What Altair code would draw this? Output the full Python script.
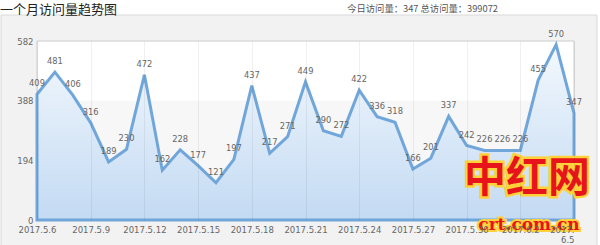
import altair as alt
import pandas as pd

dates = ["2017.5.6", "2017.5.7", "2017.5.8", "2017.5.9", "2017.5.10", "2017.5.11",
         "2017.5.12", "2017.5.13", "2017.5.14", "2017.5.15", "2017.5.16", "2017.5.17",
         "2017.5.18", "2017.5.19", "2017.5.20", "2017.5.21", "2017.5.22", "2017.5.23",
         "2017.5.24", "2017.5.25", "2017.5.26", "2017.5.27", "2017.5.28", "2017.5.29",
         "2017.5.30", "2017.5.31", "2017.6.1", "2017.6.2", "2017.6.3", "2017.6.4",
         "2017.6.5"]
visits = [409, 481, 406, 316, 189, 230, 472, 162, 228, 177, 121, 197, 437, 217, 271,
          449, 290, 272, 422, 336, 318, 166, 201, 337, 242, 226, 226, 226, 455, 570, 347]
y_ticks = [0, 194, 388, 582]
x_ticks = dates[::3]
title_text = "一个月访问量趋势图"
stats_text = "今日访问量：347 总访问量：399072"

W, H = 537, 179
FONT = "DejaVu Sans"

df = pd.DataFrame({"date": dates, "v": visits})
bands = pd.DataFrame({"y0": [0, 388], "y1": [388, 582], "c": ["#f7f7f7", "#ffffff"]})
one = pd.DataFrame({"k": [0]})

xscale = alt.Scale(type="point", padding=0, domain=dates)
yscale = alt.Scale(domain=[0, 582], nice=False, zero=True)

panel = alt.Chart(one).mark_rect(fill="#f2f2f2", stroke="#d9d9d9", strokeWidth=1).encode(
    x=alt.value(-36), x2=alt.value(560), y=alt.value(-26), y2=alt.value(205)
)

band_layer = alt.Chart(bands).mark_rect().encode(
    x=alt.value(0), x2=alt.value(W),
    y=alt.Y("y0:Q", scale=yscale), y2="y1:Q",
    color=alt.Color("c:N", scale=None, legend=None),
)

frame = alt.Chart(one).mark_rect(filled=False, stroke="#cccccc", strokeWidth=1).encode(
    x=alt.value(0), x2=alt.value(W), y=alt.value(0), y2=alt.value(H)
)

gradient = alt.Gradient(
    gradient="linear",
    stops=[alt.GradientStop(color="#f3f8fd", offset=0),
           alt.GradientStop(color="#c3daf3", offset=1)],
    x1=0, x2=0, y1=0, y2=1,
)

area = alt.Chart(df).mark_area(fill=gradient, stroke="#71a6da", strokeWidth=3).encode(
    x=alt.X("date:N", sort=dates, scale=xscale,
            axis=alt.Axis(values=x_ticks, title=None, labelAngle=0, ticks=False, domain=False,
                          grid=True, gridColor="#000000", gridOpacity=0.06,
                          labelFont=FONT, labelFontSize=8.5, labelColor="#666666",
                          labelPadding=5, labelOverlap=False, labelBound=False,
                          labelAlign={"condition": {"test": "datum.value == '2017.6.5'", "value": "right"},
                                      "value": "center"},
                          labelExpr="datum.value == '2017.6.5' ? ['2017.', '6.5'] : datum.value",
                          zindex=1)),
    y=alt.Y("v:Q", scale=yscale,
            axis=alt.Axis(values=y_ticks, title=None, ticks=False, domain=False, grid=False,
                          labelFont=FONT, labelFontSize=8.5, labelColor="#666666",
                          labelPadding=4, zindex=1)),
)

labels = alt.Chart(df).mark_text(dy=-10, font=FONT, fontSize=8.3, color="#666666").encode(
    x=alt.X("date:N", sort=dates, scale=xscale),
    y=alt.Y("v:Q", scale=yscale),
    text="v:Q",
)

title = alt.Chart(one).mark_text(text=title_text, align="left", baseline="middle",
                                 font="Noto Sans CJK SC", fontSize=13, color="#222222").encode(
    x=alt.value(-37), y=alt.value(-31)
)
stats = alt.Chart(one).mark_text(text=stats_text, align="right", baseline="middle",
                                 font="Noto Sans CJK SC", fontSize=9.3, color="#555555").encode(
    x=alt.value(461), y=alt.value(-32)
)

wm1s = alt.Chart(one).mark_text(text="中红网", align="center", baseline="middle",
                                font="Noto Sans CJK SC", fontSize=42, fontWeight="bold",
                                color="#e8141c", stroke="#ffd23a", strokeWidth=5).encode(
    x=alt.value(490), y=alt.value(138)
)
wm1 = alt.Chart(one).mark_text(text="中红网", align="center", baseline="middle",
                               font="Noto Sans CJK SC", fontSize=42, fontWeight="bold",
                               color="#e8141c").encode(
    x=alt.value(490), y=alt.value(138)
)
wm2s = alt.Chart(one).mark_text(text="crt.com.cn", align="center", baseline="middle",
                                font="DejaVu Serif", fontSize=17, fontWeight="bold",
                                color="#e8141c", stroke="#ffd23a", strokeWidth=4).encode(
    x=alt.value(492), y=alt.value(184)
)
wm2 = alt.Chart(one).mark_text(text="crt.com.cn", align="center", baseline="middle",
                               font="DejaVu Serif", fontSize=17, fontWeight="bold",
                               color="#e8141c").encode(
    x=alt.value(492), y=alt.value(184)
)

chart = alt.layer(panel, band_layer, frame, area, labels, title, stats, wm1s, wm1, wm2s, wm2).properties(
    width=W, height=H,
    autosize=alt.AutoSizeParams(type="none"),
    padding={"left": 37, "top": 41, "right": 26, "bottom": 25},
    background="white",
).configure_view(stroke=None)

chart.save("out.html", embed_options={"renderer": "svg", "actions": False})
